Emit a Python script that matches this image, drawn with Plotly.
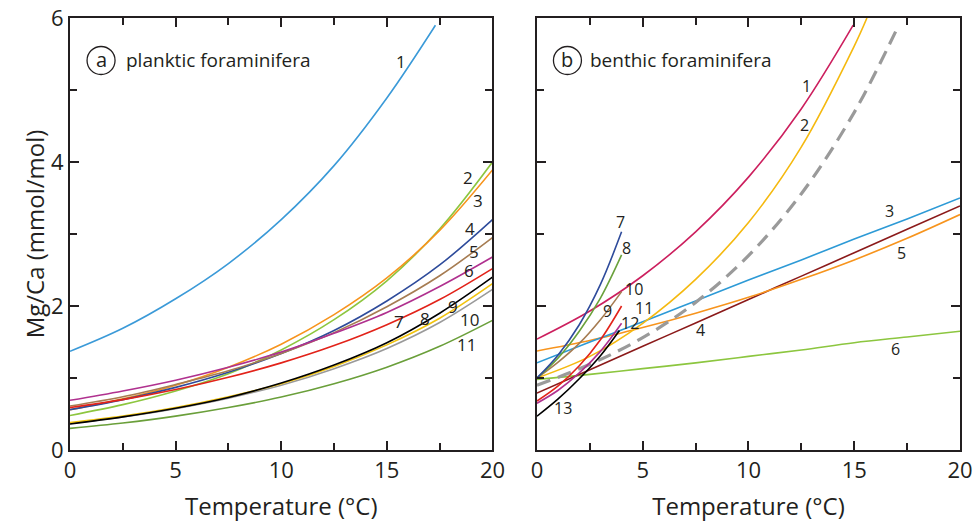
import plotly.graph_objects as go

# ---------------- (a) planktic foraminifera ----------------
temp_p = [0, 2.5, 5, 7.5, 10, 12.5, 15, 17.5, 20]
temp_p1 = [0, 2.5, 5, 7.5, 10, 12.5, 15, 17.3]
p1 = [1.37, 1.69, 2.10, 2.59, 3.20, 3.95, 4.89, 5.90]
p2 = [0.48, 0.63, 0.82, 1.06, 1.39, 1.81, 2.35, 3.07, 4.00]
p3 = [0.56, 0.71, 0.90, 1.15, 1.47, 1.88, 2.39, 3.05, 3.89]
p4 = [0.56, 0.70, 0.87, 1.08, 1.34, 1.66, 2.07, 2.57, 3.20]
p5 = [0.61, 0.74, 0.91, 1.10, 1.34, 1.63, 1.99, 2.42, 2.95]
p6 = [0.69, 0.82, 0.97, 1.15, 1.36, 1.62, 1.91, 2.27, 2.68]
p7 = [0.59, 0.70, 0.84, 1.01, 1.21, 1.45, 1.74, 2.09, 2.52]
p8 = [0.36, 0.46, 0.58, 0.73, 0.93, 1.18, 1.49, 1.90, 2.40]
p9 = [0.38, 0.47, 0.59, 0.74, 0.92, 1.16, 1.46, 1.83, 2.31]
p10 = [0.37, 0.46, 0.575, 0.72, 0.90, 1.13, 1.41, 1.77, 2.23]
p11 = [0.30, 0.375, 0.47, 0.59, 0.735, 0.92, 1.15, 1.44, 1.80]

planktic = [
    (temp_p1, p1, "#3b9ad8"),
    (temp_p, p2, "#8dc63f"),
    (temp_p, p3, "#f7941d"),
    (temp_p, p4, "#2e4b9b"),
    (temp_p, p5, "#a67c52"),
    (temp_p, p6, "#b0318f"),
    (temp_p, p7, "#e2231a"),
    (temp_p, p10, "#9a9a9a"),
    (temp_p, p9, "#f2c40f"),
    (temp_p, p8, "#000000"),
    (temp_p, p11, "#6a9f3a"),
]

planktic_labels = ["1", "2", "3", "4", "5", "6", "7", "8", "9", "10", "11"]
planktic_label_t = [15.67, 18.84, 19.31, 18.93, 19.12, 18.89, 15.57, 16.8, 18.13, 18.93, 18.79]
planktic_label_v = [5.39, 3.79, 3.46, 3.07, 2.76, 2.50, 1.79, 1.82, 1.99, 1.81, 1.46]

# ---------------- (b) benthic foraminifera ----------------
temp_b = [0, 2.5, 5, 7.5, 10, 12.5, 15, 17.5, 20]
temp_b1 = [0, 2.5, 5, 7.5, 10, 12.5, 14.95]
b1 = [1.54, 1.93, 2.42, 3.03, 3.79, 4.74, 5.90]
temp_b2 = [0, 2.5, 5, 7.5, 10, 12.5, 15, 15.6]
b2 = [1.00, 1.30, 1.76, 2.37, 3.16, 4.21, 5.61, 6.00]
temp_bd = [0, 2.5, 5, 7.5, 10, 12.5, 15, 17.1]
b_dash = [0.90, 1.19, 1.56, 2.05, 2.70, 3.56, 4.69, 5.90]
b3 = [1.21, 1.50, 1.78, 2.07, 2.36, 2.64, 2.93, 3.21, 3.50]
b4 = [0.79, 1.115, 1.44, 1.765, 2.09, 2.415, 2.74, 3.065, 3.39]
b5 = [1.375, 1.52, 1.70, 1.90, 2.12, 2.37, 2.64, 2.94, 3.27]
b6 = [0.98, 1.05, 1.13, 1.21, 1.30, 1.39, 1.49, 1.57, 1.65]
temp_short = [0, 1, 2, 3, 4]
b7 = [1.00, 1.32, 1.74, 2.30, 3.03]
b8 = [1.00, 1.28, 1.65, 2.11, 2.71]
b10 = [1.00, 1.22, 1.48, 1.81, 2.20]
b11 = [0.68, 0.89, 1.17, 1.53, 2.00]
b12 = [0.65, 0.83, 1.07, 1.37, 1.76]
temp_b13 = [0, 1, 2, 3, 3.9]
b13 = [0.47, 0.71, 0.99, 1.31, 1.66]

benthic = [
    (temp_b, b6, "#8cc63f", None),
    (temp_b, b4, "#8b1a1a", None),
    (temp_b, b5, "#f7941d", None),
    (temp_b, b3, "#2d9ad6", None),
    (temp_bd, b_dash, "#9a9a9a", "dash"),
    (temp_b2, b2, "#f5b90f", None),
    (temp_b1, b1, "#cc1f5e", None),
    (temp_short, b10, "#a67c52", None),
    (temp_short, b8, "#6aa13c", None),
    (temp_short, b7, "#2e4b9b", None),
    (temp_short, b12, "#b0318f", None),
    (temp_short, b11, "#e2231a", None),
    (temp_b13, b13, "#000000", None),
]

benthic_labels = ["1", "2", "3", "4", "5", "6", "7", "8", "9", "10", "11", "12", "13"]
benthic_label_t = [12.72, 12.67, 16.69, 7.71, 17.24, 16.93, 3.96, 4.24, 3.35, 4.6, 5.05, 4.4, 1.21]
benthic_label_v = [5.06, 4.51, 3.32, 1.66, 2.73, 1.40, 3.17, 2.80, 1.93, 2.23, 1.97, 1.77, 0.58]

INK = "#231f20"
FONT = "Open Sans"

fig = go.Figure()

for t, v, c in planktic:
    fig.add_trace(go.Scatter(x=t, y=v, mode="lines", xaxis="x", yaxis="y",
                             line=dict(color=c, width=1.6, shape="spline"),
                             hoverinfo="skip", showlegend=False))

for t, v, c, d in benthic:
    if d:
        line = dict(color=c, width=3.2, dash="14px,8px", shape="spline")
    else:
        line = dict(color=c, width=1.6, shape="spline")
    fig.add_trace(go.Scatter(x=t, y=v, mode="lines", xaxis="x2", yaxis="y2",
                             line=line, hoverinfo="skip", showlegend=False))

annotations = []
for txt, t, v in zip(planktic_labels, planktic_label_t, planktic_label_v):
    annotations.append(dict(x=t, y=v, xref="x", yref="y", text=txt, showarrow=False,
                            font=dict(family=FONT, size=17, color=INK)))
for txt, t, v in zip(benthic_labels, benthic_label_t, benthic_label_v):
    annotations.append(dict(x=t, y=v, xref="x2", yref="y2", text=txt, showarrow=False,
                            font=dict(family=FONT, size=16, color=INK)))

# panel titles with circled letters
panels = [("x", "y", 1.47, 2.55, "a", "planktic foraminifera"),
          ("x2", "y2", 1.44, 2.41, "b", "benthic foraminifera")]
shapes = []
for xr, yr, cx, tx, letter, name in panels:
    shapes.append(dict(type="circle", xref=xr, yref=yr, xsizemode="pixel", ysizemode="pixel",
                       xanchor=cx, yanchor=5.41, x0=-14, x1=14, y0=-14, y1=14,
                       line=dict(color=INK, width=1.3)))
    annotations.append(dict(x=cx, y=5.42, xref=xr, yref=yr, text=letter, showarrow=False,
                            font=dict(family=FONT, size=20, color=INK)))
    annotations.append(dict(x=tx, y=5.41, xref=xr, yref=yr, text=name, showarrow=False,
                            xanchor="left", font=dict(family=FONT, size=19, color=INK)))

axis_common = dict(showline=True, linewidth=2, linecolor=INK, mirror="ticks",
                   ticks="inside", ticklen=9, tickwidth=1.5, tickcolor=INK,
                   showgrid=False, zeroline=False, automargin=False,
                   tickfont=dict(family=FONT, size=22, color=INK))
x_common = dict(axis_common, range=[0, 20], tickvals=[0, 5, 10, 15, 20],
                minor=dict(ticks="inside", tickvals=[2.5, 7.5, 12.5, 17.5], ticklen=7,
                           tickwidth=1.5, tickcolor=INK),
                title=dict(text="Temperature (°C)", standoff=16,
                           font=dict(family=FONT, size=24, color=INK)))
y_common = dict(axis_common, range=[0, 6], tickvals=[0, 2, 4, 6],
                minor=dict(ticks="inside", tickvals=[1, 3, 5], ticklen=7,
                           tickwidth=1.5, tickcolor=INK))

fig.update_layout(
    width=975, height=522,
    margin=dict(l=70, r=15, t=18, b=72),
    paper_bgcolor="white", plot_bgcolor="white",
    xaxis=dict(x_common, domain=[0, 0.4747], anchor="y"),
    yaxis=dict(y_common, domain=[0, 1], anchor="x",
               title=dict(text="Mg/Ca (mmol/mol)", standoff=0,
                          font=dict(family=FONT, size=24, color=INK))),
    xaxis2=dict(x_common, domain=[0.5247, 1], anchor="y2"),
    yaxis2=dict(y_common, domain=[0, 1], anchor="x2", showticklabels=False),
    shapes=shapes,
    annotations=annotations,
)

fig.write_html("out.html")
